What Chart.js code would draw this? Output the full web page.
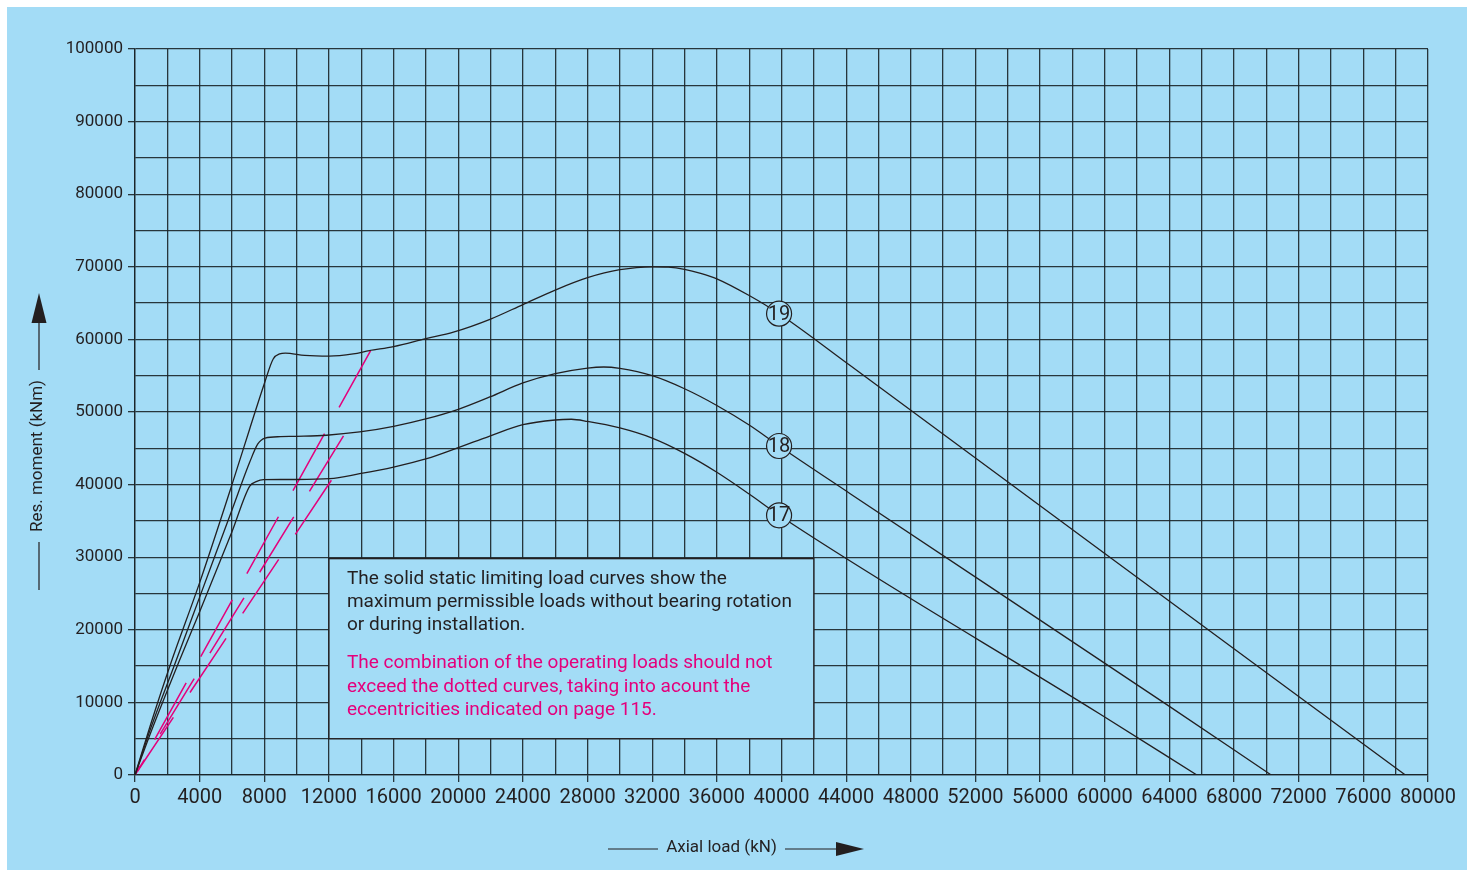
<!DOCTYPE html>
<html lang="en">
<head>
<meta charset="utf-8">
<title>Static limiting load curves</title>
<script src="https://cdn.jsdelivr.net/npm/chart.js@4.4.1/dist/chart.umd.min.js"></script>
<style>
  html, body { margin: 0; padding: 0; background: #ffffff; }
  canvas { display: block; }
</style>
</head>
<body>
<canvas id="graficoCargas" width="1473" height="870"></canvas>
<script>
// Curva 19
const cargaAxial19 = [0, 1000, 2200, 4000, 6000, 7100, 8000, 8550, 8950, 9300, 10500, 12000, 13500, 14500, 16000, 18000, 19700, 22000, 24000, 26000, 28000, 30000, 32000, 33000, 34000, 35000, 36000, 38000, 39850, 44250, 60000, 78600];
const momento19 = [0, 7200, 15300, 26500, 40000, 47700, 53900, 57300, 58000, 58100, 57800, 57700, 58000, 58450, 59000, 60100, 61000, 62800, 64800, 66800, 68500, 69600, 70000, 69950, 69650, 69100, 68350, 66050, 63540, 56400, 30500, 0];

// Curva 18
const cargaAxial18 = [0, 1000, 2500, 4000, 6000, 7100, 7600, 8050, 9000, 10000, 11850, 13900, 16000, 18050, 20000, 21950, 24000, 26000, 28000, 29000, 30000, 32000, 34000, 36000, 38000, 39850, 44250, 63700, 70300];
const momento18 = [0, 6600, 15500, 24500, 36500, 43100, 45600, 46400, 46600, 46650, 46800, 47250, 48030, 49080, 50370, 52070, 54000, 55280, 56050, 56200, 56000, 55000, 53200, 50900, 48200, 45320, 38750, 9900, 0];

// Curva 17
const cargaAxial17 = [0, 1000, 2700, 4000, 6000, 7100, 7500, 7950, 9000, 10000, 12050, 13900, 16000, 18050, 20000, 21950, 24000, 26000, 27000, 28000, 30000, 32000, 34000, 36000, 38000, 39850, 59700, 65700];
const momento17 = [0, 6000, 15500, 22500, 33500, 39800, 40400, 40680, 40700, 40700, 40810, 41500, 42420, 43570, 45090, 46690, 48250, 48900, 49000, 48700, 47800, 46400, 44300, 41700, 38700, 35770, 8400, 0];

// Curvas punteadas (de arriba hacia el origen)
const punteadaX = [[14580, 0], [12900, 0], [12150, 0]];
const punteadaY = [[58450, 0], [46700, 0], [40600, 0]];

// Etiquetas de las curvas
const etiquetasCurvas = ["19", "18", "17"];
const etiquetaX = [39850, 39850, 39850];
const etiquetaY = [63540, 45320, 35770];

// Caja de texto (esquinas en unidades del grafico)
const cajaX = [12000, 42000];
const cajaY = [29800, 5000];
const textoNegro = [
  "The solid static limiting load curves show the",
  "maximum permissible loads without bearing rotation",
  "or during installation.",
];
const textoMagenta = [
  "The combination of the operating loads should not",
  "exceed the dotted curves, taking into acount the",
  "eccentricities indicated on page 115.",
];

const tituloX = "Axial load (kN)";
const tituloY = "Res. moment (kNm)";

const colorFondo = "#a3dcf6";
const colorLinea = "#231f20";
const colorMagenta = "#e4007c";
const colorGrid = "rgba(25, 35, 40, 0.9)";

Chart.defaults.font.family = "Roboto, 'Noto Sans', sans-serif";

function construirPuntos(xs, ys) {
  return xs.map((x, i) => ({ x, y: ys[i] }));
}

const pluginFondo = {
  id: "pluginFondo",
  beforeDraw(chart) {
    const { ctx, width, height } = chart;
    ctx.save();
    ctx.fillStyle = "#ffffff";
    ctx.fillRect(0, 0, width, height);
    ctx.fillStyle = colorFondo;
    ctx.fillRect(7, 7, width - 13, height - 7);
    ctx.restore();
  },
};

const pluginAnotaciones = {
  id: "pluginAnotaciones",
  afterDatasetsDraw(chart) {
    const { ctx } = chart;
    const sx = chart.scales.x;
    const sy = chart.scales.y;

    ctx.save();

    // caja con el texto
    const izq = sx.getPixelForValue(cajaX[0]);
    const der = sx.getPixelForValue(cajaX[1]);
    const arriba = sy.getPixelForValue(cajaY[0]);
    const abajo = sy.getPixelForValue(cajaY[1]);
    ctx.fillStyle = colorFondo;
    ctx.fillRect(izq, arriba, der - izq, abajo - arriba);
    ctx.strokeStyle = colorLinea;
    ctx.lineWidth = 1.3;
    ctx.strokeRect(izq, arriba, der - izq, abajo - arriba);

    ctx.font = "19px Roboto";
    ctx.textAlign = "left";
    ctx.textBaseline = "alphabetic";
    ctx.fillStyle = colorLinea;
    textoNegro.forEach((linea, i) => {
      ctx.fillText(linea, izq + 18, arriba + 25 + i * 23.4);
    });
    ctx.fillStyle = colorMagenta;
    textoMagenta.forEach((linea, i) => {
      ctx.fillText(linea, izq + 18, arriba + 109.5 + i * 23.6);
    });

    // circulos con el numero de curva
    ctx.font = "20px Roboto";
    ctx.textAlign = "center";
    ctx.textBaseline = "middle";
    etiquetasCurvas.forEach((texto, i) => {
      const px = sx.getPixelForValue(etiquetaX[i]);
      const py = sy.getPixelForValue(etiquetaY[i]);
      ctx.beginPath();
      ctx.arc(px, py, 12.5, 0, Math.PI * 2);
      ctx.fillStyle = colorFondo;
      ctx.fill();
      ctx.lineWidth = 1.2;
      ctx.strokeStyle = colorLinea;
      ctx.stroke();
      ctx.fillStyle = colorLinea;
      ctx.fillText(texto, px, py + 1);
    });

    ctx.restore();
  },
  afterDraw(chart) {
    const { ctx } = chart;
    ctx.save();
    ctx.fillStyle = colorLinea;
    ctx.strokeStyle = colorLinea;
    ctx.lineWidth = 1.2;
    ctx.font = "17px Roboto";
    ctx.textAlign = "center";
    ctx.textBaseline = "middle";

    // titulo eje Y con flecha
    ctx.save();
    ctx.translate(38, 456);
    ctx.rotate(-Math.PI / 2);
    ctx.fillText(tituloY, 0, 0);
    ctx.restore();
    ctx.beginPath();
    ctx.moveTo(39, 322);
    ctx.lineTo(39, 370);
    ctx.moveTo(39, 542);
    ctx.lineTo(39, 590);
    ctx.stroke();
    ctx.beginPath();
    ctx.moveTo(39, 293);
    ctx.lineTo(31.5, 323);
    ctx.lineTo(46.5, 323);
    ctx.closePath();
    ctx.fill();

    // titulo eje X con flecha
    ctx.fillText(tituloX, 721.5, 848);
    ctx.beginPath();
    ctx.moveTo(608, 849);
    ctx.lineTo(658, 849);
    ctx.moveTo(785, 849);
    ctx.lineTo(837, 849);
    ctx.stroke();
    ctx.beginPath();
    ctx.moveTo(836, 842);
    ctx.lineTo(864, 849);
    ctx.lineTo(836, 856);
    ctx.closePath();
    ctx.fill();

    ctx.restore();
  },
};

function datasetCurva(xs, ys) {
  return {
    data: construirPuntos(xs, ys),
    showLine: true,
    borderColor: colorLinea,
    borderWidth: 1.3,
    pointRadius: 0,
    cubicInterpolationMode: "monotone",
  };
}

function datasetPunteada(i) {
  return {
    data: construirPuntos(punteadaX[i], punteadaY[i]),
    showLine: true,
    borderColor: colorMagenta,
    borderWidth: 1.5,
    borderDash: [65, 30],
    pointRadius: 0,
  };
}

const canvas = document.getElementById("graficoCargas");

new Chart(canvas.getContext("2d"), {
  type: "scatter",
  data: {
    datasets: [
      datasetCurva(cargaAxial19, momento19),
      datasetCurva(cargaAxial18, momento18),
      datasetCurva(cargaAxial17, momento17),
      datasetPunteada(0),
      datasetPunteada(1),
      datasetPunteada(2),
    ],
  },
  options: {
    responsive: false,
    animation: false,
    devicePixelRatio: 1,
    layout: {
      padding: { top: 49, right: 45, left: 0, bottom: 0 },
    },
    plugins: {
      legend: { display: false },
      tooltip: { enabled: false },
    },
    scales: {
      x: {
        type: "linear",
        min: 0,
        max: 80000,
        afterFit: (scale) => {
          scale.height = 95;
        },
        ticks: {
          stepSize: 2000,
          autoSkip: false,
          maxRotation: 0,
          padding: 4,
          color: colorLinea,
          font: { size: 20 },
          callback: (valor) => (valor % 4000 === 0 ? String(valor) : ""),
        },
        grid: {
          color: colorGrid,
          lineWidth: 1.3,
          tickLength: 7,
          tickColor: (context) =>
            context.tick && context.tick.value % 4000 === 0 ? colorGrid : "rgba(0,0,0,0)",
        },
        border: { color: colorGrid, width: 1.3 },
      },
      y: {
        type: "linear",
        min: 0,
        max: 100000,
        afterFit: (scale) => {
          scale.width = 135;
        },
        ticks: {
          stepSize: 5000,
          autoSkip: false,
          padding: 5,
          color: colorLinea,
          font: { size: 17 },
          callback: (valor) => (valor % 10000 === 0 ? String(valor) : ""),
        },
        grid: {
          color: colorGrid,
          lineWidth: 1.3,
          tickLength: 7,
          tickColor: (context) =>
            context.tick && context.tick.value % 10000 === 0 ? colorGrid : "rgba(0,0,0,0)",
        },
        border: { color: colorGrid, width: 1.3 },
      },
    },
  },
  plugins: [pluginFondo, pluginAnotaciones],
});
</script>
</body>
</html>
